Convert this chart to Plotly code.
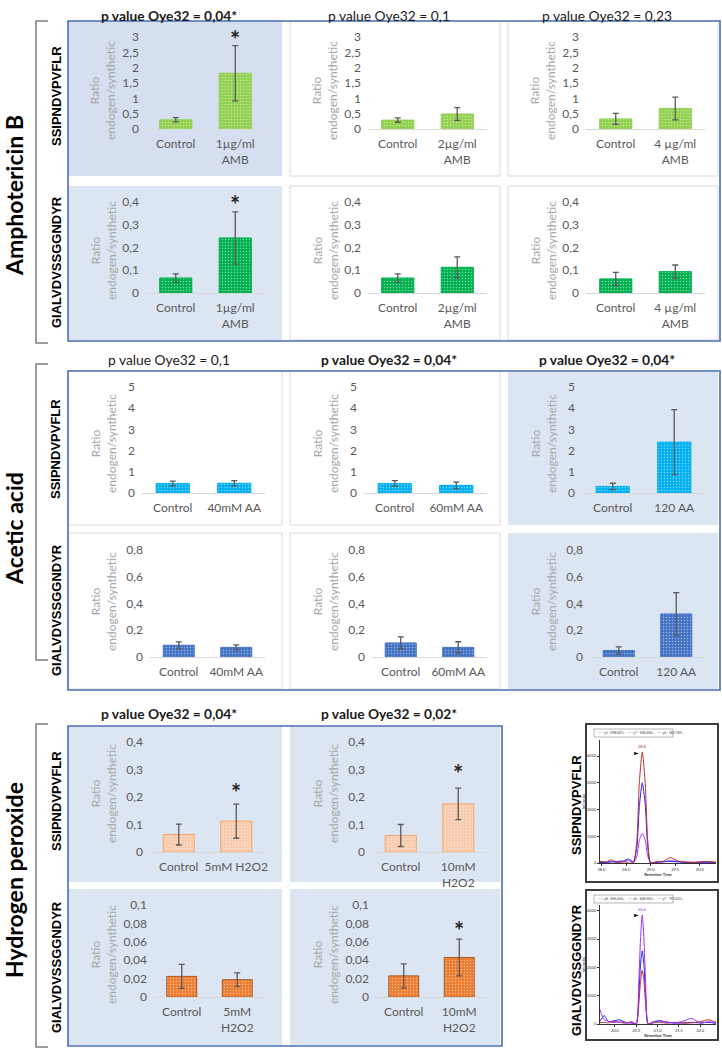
import plotly.graph_objects as go

W, H = 722, 1049
FONT = "Lato"
BOLD_FONT = "Liberation Sans"

# ---------------- data ----------------
CONTROL = "Control"

AMB_TREAT = ["1µg/ml<br>AMB", "2µg/ml<br>AMB", "4 µg/ml<br>AMB"]
AMB_PVAL = ["0,04*", "0,1", "0,23"]
AMB_SSIP_MEAN = [[0.30, 1.82], [0.29, 0.49], [0.33, 0.67]]
AMB_SSIP_ERR = [[0.07, 0.90], [0.07, 0.21], [0.18, 0.37]]
AMB_GIAL_MEAN = [[0.066, 0.242], [0.066, 0.113], [0.062, 0.094]]
AMB_GIAL_ERR = [[0.018, 0.115], [0.018, 0.046], [0.029, 0.029]]
AMB_STAR_SSIP = [True, False, False]
AMB_STAR_GIAL = [True, False, False]

AA_TREAT = ["40mM AA", "60mM AA", "120 AA"]
AA_PVAL = ["0,1", "0,04*", "0,04*"]
AA_SSIP_MEAN = [[0.45, 0.46], [0.45, 0.36], [0.31, 2.40]]
AA_SSIP_ERR = [[0.11, 0.12], [0.13, 0.15], [0.15, 1.53]]
AA_GIAL_MEAN = [[0.088, 0.072], [0.105, 0.072], [0.048, 0.322]]
AA_GIAL_ERR = [[0.025, 0.018], [0.045, 0.042], [0.027, 0.160]]
AA_STAR_SSIP = [False, False, False]
AA_STAR_GIAL = [False, False, False]

H2O2_TREAT_SSIP = ["5mM H2O2", "10mM<br>H2O2"]
H2O2_TREAT_GIAL = ["5mM<br>H2O2", "10mM<br>H2O2"]
H2O2_PVAL = ["0,04*", "0,02*"]
H2O2_SSIP_MEAN = [[0.0635, 0.112], [0.060, 0.175]]
H2O2_SSIP_ERR = [[0.038, 0.062], [0.040, 0.057]]
H2O2_GIAL_MEAN = [[0.0224, 0.0188], [0.023, 0.043]]
H2O2_GIAL_ERR = [[0.013, 0.0075], [0.013, 0.020]]
H2O2_STAR_SSIP = [True, True]
H2O2_STAR_GIAL = [False, True]

SECTION_TITLES = ["Amphotericin B", "Acetic acid", "Hydrogen peroxide"]
PEPTIDES = ["SSIPNDVPVFLR", "GIALVDVSSGGNDYR"]
PVAL_PREFIX = "p value Oye32 = "
YTITLE = "Ratio<br>endogen/synthetic"

# chromatograms (retention time / intensity)
CHROM1_RT = [27.97, 28.1, 28.2, 28.3, 28.45, 28.55, 28.65, 28.72, 28.77, 28.83,
             28.89, 28.94, 29.0, 29.1, 29.25, 29.4, 29.55, 29.7, 29.9, 30.1, 30.33]
CHROM1_BLUE = [30, 20, 40, 60, 80, 150, 40, 600, 2100, 3000, 2200, 650, 0, 30, 50,
               60, 40, 30, 20, 40, 20]
CHROM1_PURPLE = [20, 30, 60, 20, 40, 100, 20, 250, 850, 1100, 850, 280, 0, 20, 40,
                 80, 60, 20, 30, 20, 10]
CHROM1_RED = [60, 40, 120, 30, 50, 0, 20, 850, 3000, 4150, 3000, 850, 0, 40, 60,
              200, 80, 40, 20, 60, 30]
CHROM1_TICKS = [28.0, 28.5, 29.0, 29.5, 30.0]
CHROM1_TICKTEXT = ["28.0", "28.5", "29.0", "29.5", "30.0"]
CHROM1_LEGEND = ["y5 - 698.607+", "y7 - 500.460+", "y6 - 582.769+"]

CHROM2_RT = [19.65, 19.75, 19.85, 19.95, 20.1, 20.25, 20.4, 20.5, 20.56, 20.6,
             20.64, 20.68, 20.72, 20.78, 20.9, 21.05, 21.2, 21.4, 21.6, 21.8,
             22.0, 22.2, 22.37]
CHROM2_PURPLE = [500, 150, 100, 50, 80, 40, 30, 0, 1500, 3000, 3850, 3000, 1500, 0,
                 60, 100, 80, 40, 100, 200, 30, 80, 40]
CHROM2_BLUE = [100, 300, 80, 100, 150, 60, 40, 0, 1000, 2100, 2580, 2100, 1000, 0,
               80, 120, 60, 30, 40, 60, 40, 60, 20]
CHROM2_RED = [50, 60, 40, 100, 60, 30, 80, 0, 700, 1500, 1900, 1500, 700, 0, 40,
              60, 30, 60, 30, 40, 80, 150, 60]
CHROM2_TICKS = [20.0, 20.5, 21.0, 21.5, 22.0]
CHROM2_TICKTEXT = ["20.0", "20.5", "21.0", "21.5", "22.0"]
CHROM2_LEGEND = ["y8 - 856.456+", "y6 - 668.362+", "y7 - 795.621+"]
INTENSITY_TICKS = [0, 1000, 2000, 3000, 4000]

# ---------------- helpers ----------------
def X(x):
    return x / W


def Y(y):
    return 1 - y / H


traces, shapes, annotations, axes = [], [], [], {}
counter = {"n": 0}


def next_axes():
    counter["n"] += 1
    n = counter["n"]
    sfx = "" if n == 1 else str(n)
    return n, sfx


def bar_panel(panel, plot, cats, mean, err, fill, edge, ymax, dtick,
              title_y, bg, star, star_y):
    n, s = next_axes()
    px0, px1, py0, py1 = panel
    pl, pr, pt, pb = plot
    if bg is None:
        shapes.append(dict(type="rect", xref="paper", yref="paper", layer="below",
                           x0=X(px0), x1=X(px1), y0=Y(py1), y1=Y(py0),
                           fillcolor="white", line=dict(color="#d9d9d9", width=1)))
    else:
        shapes.append(dict(type="rect", xref="paper", yref="paper", layer="below",
                           x0=X(px0), x1=X(px1), y0=Y(py1), y1=Y(py0),
                           fillcolor=bg, line=dict(width=0)))
    traces.append(go.Bar(
        x=cats, y=mean, xaxis="x" + s, yaxis="y" + s,
        marker=dict(color=fill, line=dict(color=edge, width=1),
                    pattern=dict(shape=".", fgcolor="white", bgcolor=fill,
                                 size=3, solidity=0.18)),
        error_y=dict(type="data", array=err, visible=True, color="#595959",
                     thickness=1.3, width=3),
        showlegend=False, hoverinfo="skip"))
    tf = dict(family=FONT, size=12, color="#595959")
    axes["xaxis" + s] = dict(domain=[X(pl), X(pr)], anchor="y" + s, type="category",
                             showline=True, linecolor="#d9d9d9", linewidth=1,
                             ticks="", showgrid=False, zeroline=False, tickfont=tf,
                             fixedrange=True, ticklabelstandoff=4, automargin=False)
    axes["yaxis" + s] = dict(domain=[Y(pb), Y(pt)], anchor="x" + s, range=[0, ymax],
                             dtick=dtick, tick0=0, showgrid=False, zeroline=False,
                             showline=False, ticks="", tickfont=tf, fixedrange=True,
                             ticklabelstandoff=6, automargin=False)
    annotations.append(dict(text=YTITLE, textangle=-90, xref="paper", yref="paper",
                            x=X(px0 + 35), y=Y(title_y), showarrow=False,
                            font=dict(family=FONT, size=12, color="#a6a6a6"),
                            xanchor="center", yanchor="middle"))
    if star:
        annotations.append(dict(text="<b>*</b>", xref="x" + s, yref="paper", x=1,
                                y=Y(star_y + 5), showarrow=False,
                                font=dict(family=FONT, size=24, color="#262626"),
                                xanchor="center", yanchor="middle"))


COLS = [(68, 282), (290, 500), (508, 718)]
HIGHLIGHT = "#dce6f2"

sections = [
    dict(treat=[AMB_TREAT, AMB_TREAT], pval=AMB_PVAL,
         mean=[AMB_SSIP_MEAN, AMB_GIAL_MEAN], err=[AMB_SSIP_ERR, AMB_GIAL_ERR],
         star=[AMB_STAR_SSIP, AMB_STAR_GIAL],
         fills=[("#92d050", "#92d050"), ("#00b050", "#00b050")],
         rows=[(21, 176, 37, 129, 78, 3, 0.5, 91, 35),
               (186, 340, 202, 293, 78, 0.4, 0.1, 251, 200)],
         bg=[["#d6dff0", None, None], [HIGHLIGHT, None, None]],
         header_y=15, star_y=[[35, 0, 0], [200, 0, 0]],
         border=(68, 21, 720, 341), bracket=(21, 343), title_y=196,
         row_label_y=[96, 262]),
    dict(treat=[AA_TREAT, AA_TREAT], pval=AA_PVAL,
         mean=[AA_SSIP_MEAN, AA_GIAL_MEAN], err=[AA_SSIP_ERR, AA_GIAL_ERR],
         star=[AA_STAR_SSIP, AA_STAR_GIAL],
         fills=[("#00b0f0", "#00b0f0"), ("#4472c4", "#4472c4")],
         rows=[(371, 525, 387, 493, 74, 5, 1, 444, 0),
               (533, 689, 550, 657, 82, 0.8, 0.2, 602, 0)],
         bg=[[None, None, HIGHLIGHT], [None, None, HIGHLIGHT]],
         header_y=359, star_y=[[0, 0, 0], [0, 0, 0]],
         border=(68, 371, 720, 690), bracket=(364, 660), title_y=529,
         row_label_y=[449, 610]),
    dict(treat=[H2O2_TREAT_SSIP, H2O2_TREAT_GIAL], pval=H2O2_PVAL,
         mean=[H2O2_SSIP_MEAN, H2O2_GIAL_MEAN], err=[H2O2_SSIP_ERR, H2O2_GIAL_ERR],
         star=[H2O2_STAR_SSIP, H2O2_STAR_GIAL],
         fills=[("#f8cbad", "#f4a46a"), ("#ed7d31", "#a85a26")],
         rows=[(726, 882, 742, 852, 82, 0.4, 0.1, 794, 0),
               (889, 1045, 905, 997, 86, 0.1, 0.02, 955, 0)],
         bg=[[HIGHLIGHT, HIGHLIGHT], [HIGHLIGHT, HIGHLIGHT]],
         header_y=713, star_y=[[787, 768], [0, 925]],
         border=(68, 726, 502, 1046), bracket=(724, 1047), title_y=880,
         row_label_y=[801, 967]),
]

for sec_i, sec in enumerate(sections):
    ncols = len(sec["pval"])
    for c in range(ncols):
        pv = sec["pval"][c]
        txt = PVAL_PREFIX + pv
        if "*" in pv:
            txt = "<b>" + txt + "</b>"
        cx = (COLS[c][0] + COLS[c][1]) / 2 - 6
        annotations.append(dict(text=txt, xref="paper", yref="paper", x=X(cx),
                                y=Y(sec["header_y"]), showarrow=False,
                                font=dict(family=FONT, size=13.8, color="#1a1a1a"),
                                xanchor="center", yanchor="middle"))
    for r in range(2):
        py0, py1, pt, pb, off, ymax, dtick, ty, _ = sec["rows"][r]
        fill, edge = sec["fills"][r]
        for c in range(ncols):
            px0, px1 = COLS[c]
            bar_panel((px0, px1, py0, py1), (px0 + off, px0 + 197, pt, pb),
                      [CONTROL, sec["treat"][r][c]], sec["mean"][r][c],
                      sec["err"][r][c], fill, edge, ymax, dtick, ty,
                      sec["bg"][r][c], sec["star"][r][c], sec["star_y"][r][c])
        annotations.append(dict(text="<b>" + PEPTIDES[r] + "</b>", textangle=-90,
                                xref="paper", yref="paper", x=X(56),
                                y=Y(sec["row_label_y"][r]), showarrow=False,
                                font=dict(family=BOLD_FONT, size=13, color="black"),
                                xanchor="center", yanchor="middle"))
    bx0, by0, bx1, by1 = sec["border"]
    shapes.append(dict(type="rect", xref="paper", yref="paper",
                       x0=X(bx0), x1=X(bx1), y0=Y(by1), y1=Y(by0),
                       line=dict(color="#4a6fb5", width=1.6), fillcolor="rgba(0,0,0,0)"))
    t0, t1 = sec["bracket"]
    shapes.append(dict(type="path", xref="paper", yref="paper",
                       path=f"M {X(48)},{Y(t0)} L {X(36)},{Y(t0)} L {X(36)},{Y(t1)} L {X(48)},{Y(t1)}",
                       line=dict(color="#7f7f7f", width=1.5)))
    annotations.append(dict(text="<b>" + SECTION_TITLES[sec_i] + "</b>", textangle=-90,
                            xref="paper", yref="paper", x=X(14), y=Y(sec["title_y"]),
                            showarrow=False,
                            font=dict(family=FONT, size=23, color="black"),
                            xanchor="center", yanchor="middle"))


# ---------------- chromatograms ----------------
def chrom(box, plot, rt, series, ymax, ticks, ticktext, legend, label_y, peak_series):
    n, s = next_axes()
    bx0, by0, bx1, by1 = box
    pl, pr, pt, pb = plot
    shapes.append(dict(type="rect", xref="paper", yref="paper", layer="below",
                       x0=X(bx0), x1=X(bx1), y0=Y(by1), y1=Y(by0),
                       fillcolor="white", line=dict(color="#3c3c3c", width=2)))
    for vals, col in series:
        traces.append(go.Scatter(x=rt, y=vals, xaxis="x" + s, yaxis="y" + s,
                                 mode="lines", line=dict(color=col, width=1,
                                                         shape="spline", smoothing=0.6),
                                 showlegend=False, hoverinfo="skip"))
    tf = dict(family=FONT, size=4, color="#333")
    axes["xaxis" + s] = dict(domain=[X(pl), X(pr)], anchor="y" + s,
                             range=[rt[0], rt[-1]], tickvals=ticks, ticktext=ticktext,
                             showline=True, linecolor="#333", linewidth=0.8,
                             ticks="outside", ticklen=2, tickcolor="#333",
                             showgrid=False, zeroline=False, tickfont=tf,
                             title=dict(text="<b>Retention Time</b>", font=tf, standoff=1),
                             fixedrange=True, automargin=False)
    axes["yaxis" + s] = dict(domain=[Y(pb), Y(pt)], anchor="x" + s,
                             range=[0, ymax], tickvals=INTENSITY_TICKS,
                             showline=True, linecolor="#333", linewidth=0.8,
                             ticks="outside", ticklen=2, tickcolor="#333",
                             showgrid=False, zeroline=False, tickfont=tf,
                             title=dict(text="Intensity", font=tf, standoff=1),
                             fixedrange=True, automargin=False)
    # legend box
    lx0, lx1 = bx0 + 8, bx0 + 87
    ly = by0 + 9
    shapes.append(dict(type="rect", xref="paper", yref="paper",
                       x0=X(lx0), x1=X(lx1), y0=Y(ly + 4), y1=Y(ly - 4),
                       line=dict(color="#888", width=0.6), fillcolor="white"))
    parts = [f"<span style='color:{col}'>——</span> {txt}"
             for txt, (vals, col) in zip(legend, series)]
    annotations.append(dict(
        text="   ".join(parts), xref="paper", yref="paper", x=X(lx0 + 2), y=Y(ly),
        showarrow=False, xanchor="left", yanchor="middle",
        font=dict(family=FONT, size=3.3, color="#444")))
    # peak label
    vals, col = peak_series
    imax = max(range(len(vals)), key=lambda k: vals[k])
    annotations.append(dict(text=f"{rt[imax]:.1f}", xref="x" + s, yref="y" + s,
                            x=rt[imax], y=vals[imax], yshift=1, showarrow=False,
                            xanchor="center", yanchor="bottom",
                            font=dict(family=FONT, size=4, color=col)))
    annotations.append(dict(text="►", xref="x" + s, yref="y" + s,
                            x=rt[imax], y=vals[imax], xshift=-6, showarrow=False,
                            xanchor="center", yanchor="middle",
                            font=dict(family="DejaVu Sans", size=6, color="black")))
    annotations.append(dict(text="<b>" + PEPTIDES[0 if label_y < 900 else 1] + "</b>",
                            textangle=-90, xref="paper", yref="paper", x=X(576),
                            y=Y(label_y), showarrow=False,
                            font=dict(family=BOLD_FONT, size=13, color="black"),
                            xanchor="center", yanchor="middle"))


BLUE, PURPLE, RED = "#1f1fff", "#9b30ff", "#c0302a"
chrom((586, 724, 718, 882), (600, 716, 740, 863), CHROM1_RT,
      [(CHROM1_PURPLE, PURPLE), (CHROM1_BLUE, BLUE), (CHROM1_RED, RED)],
      4600, CHROM1_TICKS, CHROM1_TICKTEXT,
      [CHROM1_LEGEND[0], CHROM1_LEGEND[1], CHROM1_LEGEND[2]], 805,
      (CHROM1_RED, RED))
chrom((586, 890, 718, 1040), (600, 716, 905, 1024), CHROM2_RT,
      [(CHROM2_BLUE, BLUE), (CHROM2_RED, RED), (CHROM2_PURPLE, PURPLE)],
      4200, CHROM2_TICKS, CHROM2_TICKTEXT,
      [CHROM2_LEGEND[0], CHROM2_LEGEND[1], CHROM2_LEGEND[2]], 970,
      (CHROM2_PURPLE, PURPLE))

fig = go.Figure(data=traces)
fig.update_layout(
    width=W, height=H, margin=dict(l=0, r=0, t=0, b=0, pad=0, autoexpand=False),
    paper_bgcolor="white", plot_bgcolor="rgba(0,0,0,0)",
    bargap=0.46, separators=", ", showlegend=False,
    font=dict(family=FONT, color="#333"),
    shapes=shapes, annotations=annotations, **axes)
fig.write_html("out.html", config={"displayModeBar": False},
               post_script="document.body.style.margin='0';document.body.style.padding='0';")
